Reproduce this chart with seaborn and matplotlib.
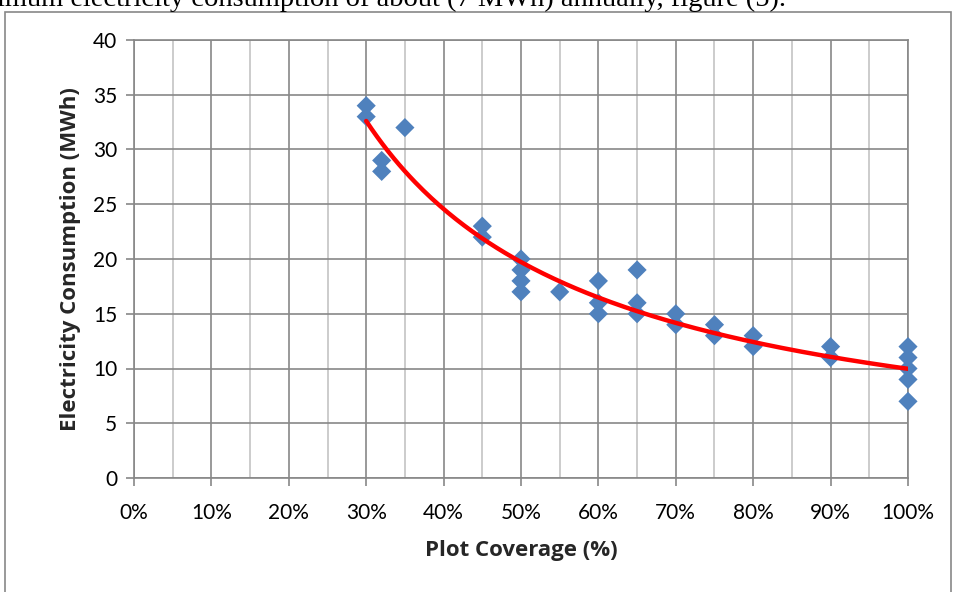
import numpy as np
import pandas as pd
import matplotlib
matplotlib.use("Agg")
import matplotlib.pyplot as plt
from matplotlib.patches import Rectangle
from matplotlib.ticker import MultipleLocator, PercentFormatter
import seaborn as sns

# Data (plot coverage fraction, electricity consumption MWh)
coverage = [0.30, 0.30, 0.32, 0.32, 0.35, 0.45, 0.45, 0.50, 0.50, 0.50, 0.50,
            0.55, 0.60, 0.60, 0.60, 0.65, 0.65, 0.65, 0.70, 0.70, 0.75, 0.75,
            0.80, 0.80, 0.90, 0.90, 1.00, 1.00, 1.00, 1.00, 1.00]
consumption = [34, 33, 29, 28, 32, 23, 22, 20, 19, 18, 17,
               17, 18, 16, 15, 19, 16, 15, 15, 14, 14, 13,
               13, 12, 12, 11, 12, 11, 10, 9, 7]
x_ticks = [0, 0.1, 0.2, 0.3, 0.4, 0.5, 0.6, 0.7, 0.8, 0.9, 1.0]
y_ticks = [0, 5, 10, 15, 20, 25, 30, 35, 40]
x_label = "Plot Coverage (%)"
y_label = "Electricity Consumption (MWh)"
caption = "imum electricity consumption of about (7 MWh) annually, figure (5)."

df = pd.DataFrame({"coverage": coverage, "consumption": consumption})

# Power trendline (fit in log space, as a spreadsheet power trendline does)
b, ln_a = np.polyfit(np.log(df["coverage"]), np.log(df["consumption"]), 1)
xs = np.linspace(min(coverage), max(coverage), 200)
trend = pd.DataFrame({"coverage": xs, "consumption": np.exp(ln_a) * xs ** b})

sns.set_theme(style="white")
plt.rcParams["font.family"] = ["Lato", "DejaVu Sans"]

W, H = 954, 592
fig = plt.figure(figsize=(W / 100, H / 100), dpi=100)
ax = fig.add_axes([134 / W, (H - 478) / H, (908 - 134) / W, (478 - 40) / H])

dark = "#888888"
light = "#c4c4c4"

sns.lineplot(data=trend, x="coverage", y="consumption", ax=ax, color="#ff0000",
             linewidth=3.2, zorder=4)
sns.scatterplot(data=df, x="coverage", y="consumption", ax=ax, marker="D",
                s=95, color="#4f81bd", edgecolor="none", zorder=3, clip_on=False)

ax.set_xlim(0, 1)
ax.set_ylim(0, 40)
ax.set_xticks(x_ticks)
ax.set_yticks(y_ticks)
ax.xaxis.set_minor_locator(MultipleLocator(0.05))
ax.xaxis.set_major_formatter(PercentFormatter(1.0, decimals=0))
ax.grid(axis="x", which="major", color=dark, linewidth=1.2, zorder=0)
ax.grid(axis="x", which="minor", color=light, linewidth=1.2, zorder=0)
ax.grid(axis="y", which="major", color=dark, linewidth=1.2, zorder=0)
ax.set_axisbelow(True)
for s in ax.spines.values():
    s.set_color(dark)
    s.set_linewidth(1.2)
ax.tick_params(axis="both", which="major", direction="out", length=6, width=1.2,
               color=dark, labelsize=15, labelcolor="black", pad=6, bottom=True, left=True)
ax.tick_params(axis="x", which="minor", length=0)
ax.tick_params(axis="x", pad=12)

ax.set_xlabel(x_label, fontsize=16, fontweight="bold", family="Open Sans", labelpad=12)
ax.set_ylabel(y_label, fontsize=16, fontweight="bold", family="Open Sans", labelpad=9)

# chart area border
fig.patches.append(Rectangle((5 / W, -0.1), (951 - 5) / W, (H - 12) / H + 0.1,
                             transform=fig.transFigure, fill=False,
                             edgecolor=dark, linewidth=1.2))
fig.text(-3 / W, (H - 6) / H, caption, family="Liberation Serif", fontsize=20.5,
         ha="left", va="baseline", color="black")

fig.savefig("out.png", dpi=100)
